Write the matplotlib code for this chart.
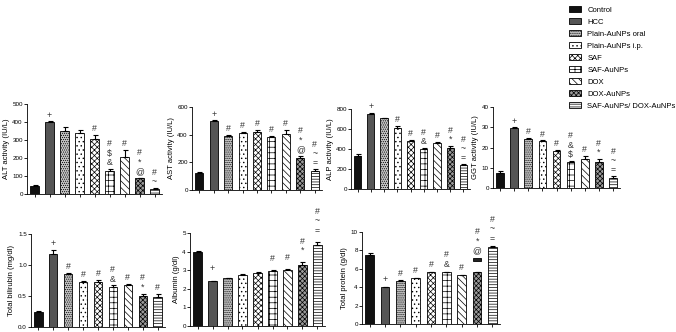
import matplotlib
matplotlib.use("Agg")
import matplotlib.pyplot as plt
from matplotlib.patches import Patch

plt.rcParams['font.family'] = ['Liberation Sans', 'DejaVu Sans']
plt.rcParams['hatch.linewidth'] = 0.5

groups = ["Control", "HCC", "Plain-AuNPs oral", "Plain-AuNPs i.p.", "SAF",
          "SAF-AuNPs", "DOX", "DOX-AuNPs", "SAF-AuNPs/ DOX-AuNPs"]

alt_vals = [45, 398, 350, 338, 305, 130, 205, 88, 30]
alt_err = [5, 5, 20, 15, 25, 10, 40, 3, 3]
alt_ann = ["", "+", "", "", "#", "#\n$\n&", "#", "#\n*\n@", "#\n~"]

ast_vals = [125, 500, 390, 410, 420, 380, 405, 228, 140]
ast_err = [3, 3, 10, 12, 15, 12, 30, 20, 12]
ast_ann = ["", "+", "#", "#", "#", "#", "#", "#\n*\n@", "#\n~\n="]

alp_vals = [330, 750, 710, 610, 485, 405, 460, 410, 240]
alp_err = [25, 10, 5, 20, 10, 8, 15, 25, 10]
alp_ann = ["", "+", "", "#", "#", "#\n&", "#", "#\n*", "#\n~\n="]

ggt_vals = [7.5, 29.5, 24, 23, 18.5, 13, 14.5, 13, 5]
ggt_err = [1, 0.5, 0.7, 0.5, 0.5, 0.5, 1.5, 1.5, 1]
ggt_ann = ["", "+", "#", "#", "#", "#\n&\n$", "#", "#\n*", "#\n~\n="]

bil_vals = [0.25, 1.17, 0.85, 0.73, 0.72, 0.65, 0.68, 0.50, 0.48]
bil_err = [0.01, 0.08, 0.02, 0.02, 0.04, 0.02, 0.02, 0.04, 0.06]
bil_ann = ["", "+", "#", "#", "#", "#\n&", "#", "#\n*", "#"]

alb_vals = [3.98, 2.4, 2.58, 2.75, 2.85, 2.95, 3.02, 3.3, 4.35]
alb_err = [0.03, 0.03, 0.02, 0.02, 0.06, 0.05, 0.04, 0.12, 0.15]
alb_ann = ["", "+", "", "", "", "#", "#", "#\n*", "#\n~\n="]

tp_vals = [7.5, 4.0, 4.7, 5.0, 5.7, 5.7, 5.3, 5.7, 8.4]
tp_err = [0.2, 0.05, 0.05, 0.03, 0.0, 0.0, 0.05, 0.0, 0.1]
tp_ann = ["", "+", "#", "#", "#", "#\n&", "#", "#\n*\n@", "#\n~\n="]
tp_cap_top = [None, None, None, None, None, None, None, 7.2, None]

faces = ["#111111", "#555555", "#c4c4c4", "white", "white", "white", "white", "#9a9a9a", "white"]
hatches = [None, None, "........", "....", "xxxxxx", "+++", "\\\\\\\\\\", "xxxxxxx", "------"]

W, H = 676, 332
fig = plt.figure(figsize=(W / 100, H / 100), dpi=100)


def px_axes(x0, x1, ytop, ybot):
    return fig.add_axes([x0 / W, 1 - ybot / H, (x1 - x0) / W, (ybot - ytop) / H])


def panel(rect, vals, errs, anns, ylim, ticks, ticklabels, ylabel, ann_off, caps=None):
    ax = px_axes(*rect)
    x = list(range(len(vals)))
    for i, v in enumerate(vals):
        ax.bar(i, v, width=0.55, color=faces[i], edgecolor="black",
               linewidth=0.6, hatch=hatches[i], zorder=2)
    ax.errorbar(x, vals, yerr=[[0] * len(vals), errs], fmt="none",
                ecolor="black", elinewidth=0.8, capsize=1.8, capthick=0.8, zorder=3)
    if caps:
        for i, c in enumerate(caps):
            if c is not None:
                ax.bar(i, ylim[1] * 0.03, bottom=c - ylim[1] * 0.03, width=0.55,
                       color="#222222", edgecolor="black", linewidth=0.6, zorder=3)
    for i, a in enumerate(anns):
        if a:
            top = vals[i] + errs[i]
            if caps and caps[i] is not None:
                top = caps[i]
            t = ax.text(i, top + ann_off, a, ha="center", va="bottom",
                        fontsize=6.3, linespacing=1.05, color="#333333")
            t.set_clip_on(False)
    ax.set_xlim(-0.5, len(vals) - 0.5)
    ax.set_ylim(*ylim)
    ax.set_yticks(ticks)
    ax.set_yticklabels(ticklabels)
    ax.set_xticks(x)
    ax.set_xticklabels([])
    ax.tick_params(axis="both", length=2, width=0.6, labelsize=4.5, pad=1)
    for s in ["top", "right"]:
        ax.spines[s].set_visible(False)
    for s in ["left", "bottom"]:
        ax.spines[s].set_linewidth(0.6)
    ax.set_ylabel(ylabel, fontsize=5.5, labelpad=2)
    return ax


panel((27, 162, 104, 194), alt_vals, alt_err, alt_ann, (0, 500),
      [0, 100, 200, 300, 400, 500], ["0", "100", "200", "300", "400", "500"],
      "ALT activity (IU/L)", 10)
panel((192, 322, 107, 190), ast_vals, ast_err, ast_ann, (0, 600),
      [0, 200, 400, 600], ["0", "200", "400", "600"], "AST activity (IU/L)", 12)
panel((351, 470, 109, 189), alp_vals, alp_err, alp_ann, (0, 800),
      [0, 200, 400, 600, 800], ["0", "200", "400", "600", "800"],
      "ALP activity (IU/L)", 16)
panel((493, 620, 107, 188), ggt_vals, ggt_err, ggt_ann, (0, 40),
      [0, 10, 20, 30, 40], ["0", "10", "20", "30", "40"], "GGT activity (IU/L)", 0.8)
panel((31, 165, 234, 327), bil_vals, bil_err, bil_ann, (0, 1.5),
      [0.0, 0.5, 1.0, 1.5], ["0.0", "0.5", "1.0", "1.5"], "Total bilirubin (mg/dl)", 0.03)
panel((190, 325, 233, 326), alb_vals, alb_err, alb_ann, (0, 5),
      [0, 1, 2, 3, 4, 5], ["0", "1", "2", "3", "4", "5"], "Albumin (g/dl)", 0.4)
panel((362, 500, 232, 324), tp_vals, tp_err, tp_ann, (0, 10),
      [0, 2, 4, 6, 8, 10], ["0", "2", "4", "6", "8", "10"], "Total protein (g/dl)", 0.3,
      caps=tp_cap_top)

handles = [Patch(facecolor=faces[i], edgecolor="black", linewidth=0.6,
                 hatch=hatches[i], label=groups[i]) for i in range(len(groups))]
fig.legend(handles=handles, loc="upper left", bbox_to_anchor=(566 / W, 1 - 3 / H),
           frameon=False, fontsize=5.5, handlelength=1.6, handleheight=0.9,
           labelspacing=0.55, handletextpad=0.8, borderaxespad=0)

fig.savefig("out.png", dpi=100)
